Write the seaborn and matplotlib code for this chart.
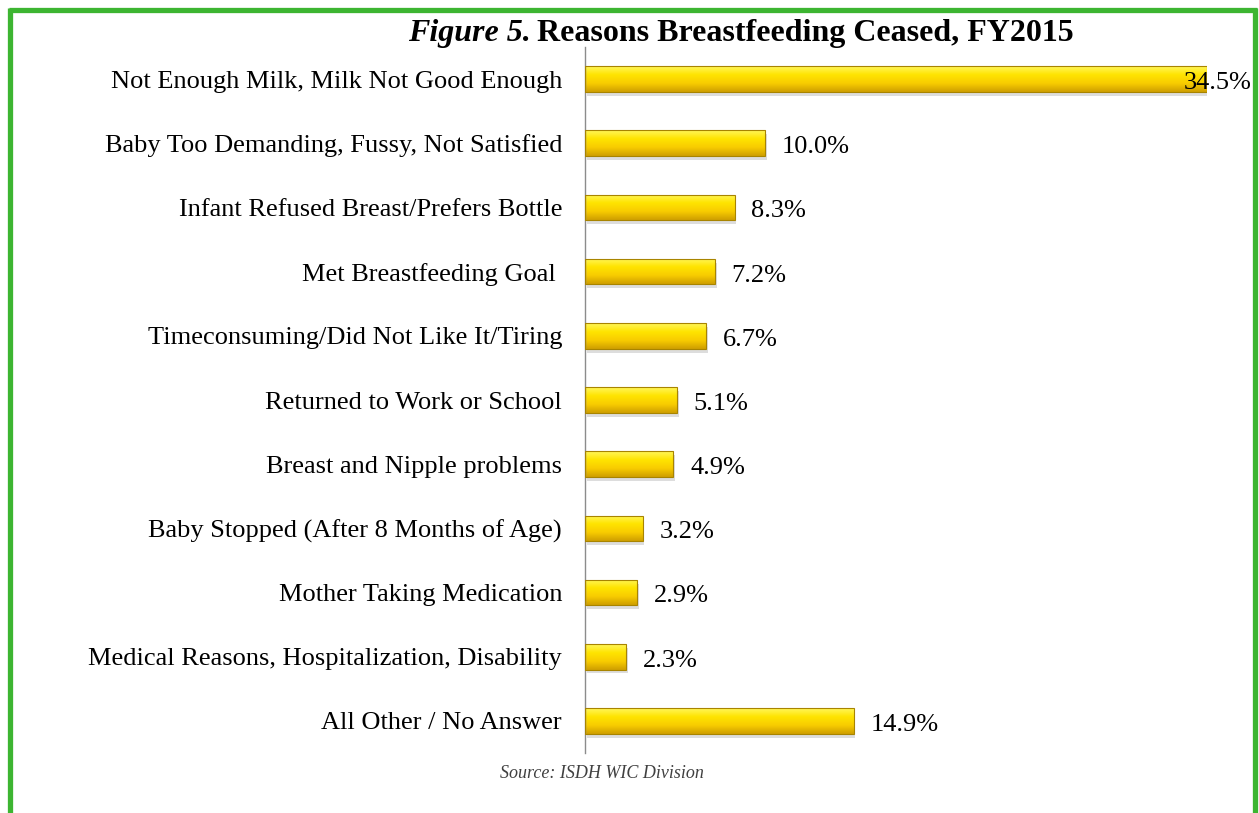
import numpy as np
import pandas as pd
import seaborn as sns
import matplotlib.pyplot as plt
from matplotlib.patches import Rectangle
from matplotlib.colors import LinearSegmentedColormap

reasons = [
    'Not Enough Milk, Milk Not Good Enough',
    'Baby Too Demanding, Fussy, Not Satisfied',
    'Infant Refused Breast/Prefers Bottle',
    'Met Breastfeeding Goal ',
    'Timeconsuming/Did Not Like It/Tiring',
    'Returned to Work or School',
    'Breast and Nipple problems',
    'Baby Stopped (After 8 Months of Age)',
    'Mother Taking Medication',
    'Medical Reasons, Hospitalization, Disability',
    'All Other / No Answer',
]
pct = [34.5, 10.0, 8.3, 7.2, 6.7, 5.1, 4.9, 3.2, 2.9, 2.3, 14.9]
labels = ['%.1f%%' % v for v in pct]

df = pd.DataFrame({'reason': reasons, 'pct': pct})

sns.set_style('white')
plt.rcParams['font.family'] = ['Liberation Serif', 'DejaVu Serif']
plt.rcParams['text.color'] = 'black'
plt.rcParams['ytick.color'] = 'black'

fig = plt.figure(figsize=(12.59, 8.13), dpi=100)
ax = fig.add_axes([585 / 1259, 1 - 753 / 813, (1207 - 585) / 1259, (753 - 47) / 813])

sns.barplot(data=df, x='pct', y='reason', orient='h', width=0.4,
            color='#ffd700', edgecolor='#a88400', linewidth=0.8, ax=ax)
xl, yl = (0, 34.5), ax.get_ylim()

# gold gradient on each bar
cmap = LinearSegmentedColormap.from_list('gold', ['#fff65a', '#ffe400', '#f8cc00', '#cf9f00'])
grad = np.linspace(0, 1, 64).reshape(-1, 1)
for p in list(ax.patches):
    x0, y0 = p.get_x(), p.get_y()
    w, h = p.get_width(), p.get_height()
    # soft shadow
    ax.add_patch(Rectangle((x0 + 0.1, y0 + 0.06), w, h, color='#bdbdbd', alpha=0.5, zorder=1, lw=0))
    im = ax.imshow(grad, cmap=cmap, aspect='auto', extent=(x0, x0 + w, y0 + h, y0),
                   origin='upper', zorder=2, interpolation='bicubic')
    im.set_clip_path(p)
    p.set_zorder(3)
    p.set_facecolor('none')

ax.set_xlim(*xl)
ax.set_ylim(*yl)

# value labels
for i, (v, t) in enumerate(zip(pct, labels)):
    off = -17 if i == 0 else 12
    ax.annotate(t, (v, i), xytext=(off, -1), textcoords='offset points',
                va='center_baseline', ha='left', fontsize=19, color='black', zorder=5,
                annotation_clip=False)

ax.set_xlabel('')
ax.set_ylabel('')
ax.set_xticks([])
ax.tick_params(axis='y', length=0, pad=16.5, labelsize=19, labelcolor='black')
for s in ['top', 'right', 'bottom']:
    ax.spines[s].set_visible(False)
ax.spines['left'].set_color('#8c8c8c')
ax.spines['left'].set_linewidth(1)

# title in two parts
t1 = fig.text(408 / 1259, 1 - 33 / 813, 'Figure 5.', fontsize=23, style='italic',
              fontweight='bold', va='center', ha='left')
fig.canvas.draw()
bb = t1.get_window_extent()
fig.text((bb.x1 + 6) / 1259, 1 - 33 / 813, 'Reasons Breastfeeding Ceased, FY2015',
         fontsize=23, fontweight='bold', va='center', ha='left')

fig.text(602 / 1259, 1 - 773 / 813, 'Source: ISDH WIC Division', fontsize=13,
         style='italic', color='#404040', ha='center', va='center')

# green frame (open at the bottom)
g = '#3db531'
fig.add_artist(plt.Line2D([10.5 / 1259, 10.5 / 1259], [0, 1 - 8 / 813], color=g, lw=3.8,
                          transform=fig.transFigure, solid_capstyle='butt'))
fig.add_artist(plt.Line2D([1255 / 1259, 1255 / 1259], [0, 1 - 8 / 813], color=g, lw=3.8,
                          transform=fig.transFigure, solid_capstyle='butt'))
fig.add_artist(plt.Line2D([8.5 / 1259, 1257 / 1259], [1 - 10.5 / 813, 1 - 10.5 / 813], color=g,
                          lw=3.8, transform=fig.transFigure, solid_capstyle='butt'))

fig.savefig('out.png', dpi=100)
